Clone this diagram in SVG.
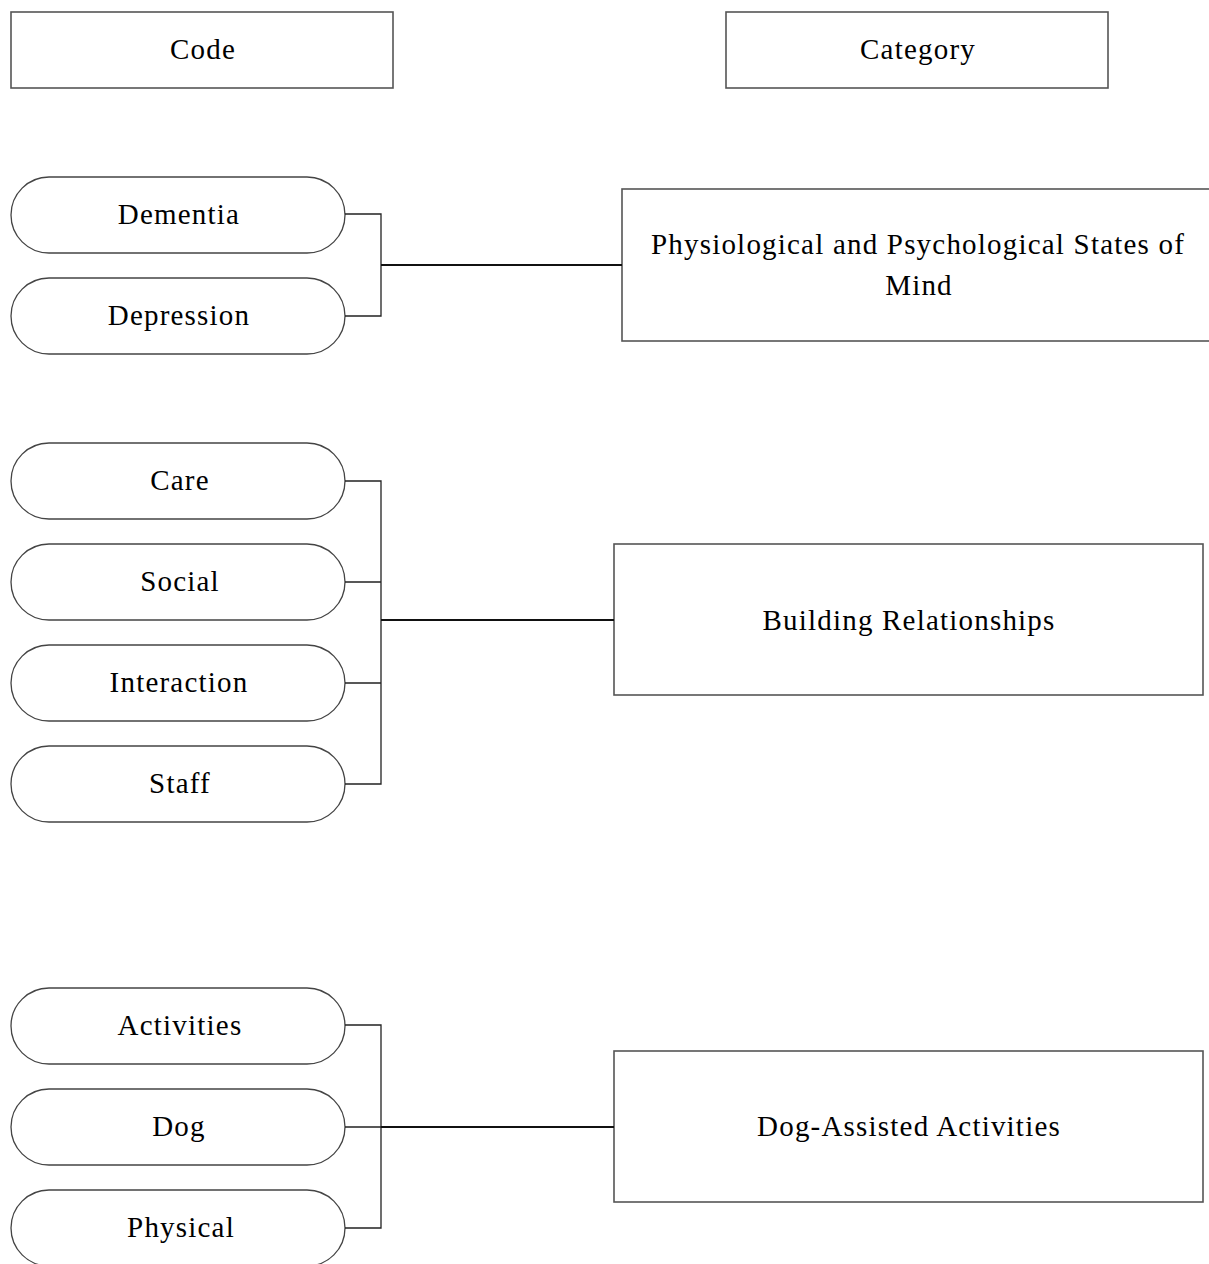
<svg xmlns="http://www.w3.org/2000/svg" width="1209" height="1264" viewBox="0 0 1209 1264">
<style>
.box{fill:#fff;stroke:#555;stroke-width:1.6}
.pill{fill:#fff;stroke:#444;stroke-width:1.3}
.t{font-family:"Liberation Serif","Times New Roman",serif;font-size:29px;letter-spacing:1.2px;fill:#000;text-anchor:middle;dominant-baseline:central}
.c{fill:none;stroke:#222;stroke-width:1.3}
.m{fill:none;stroke:#111;stroke-width:2}
</style>
<rect width="1209" height="1264" fill="#fff"/>
<g id="hdr-code"><rect class="box" x="11" y="12" width="382" height="76"/><text class="t" x="203" y="49">Code</text></g>
<g id="hdr-category"><rect class="box" x="726" y="12" width="382" height="76"/><text class="t" x="918" y="49">Category</text></g>

<g id="code-dementia"><rect class="pill" x="11" y="177" width="334" height="76" rx="38"/><text class="t" x="179" y="214">Dementia</text></g>
<g id="code-depression"><rect class="pill" x="11" y="278" width="334" height="76" rx="38"/><text class="t" x="179" y="315">Depression</text></g>
<g id="code-care"><rect class="pill" x="11" y="443" width="334" height="76" rx="38"/><text class="t" x="180" y="480">Care</text></g>
<g id="code-social"><rect class="pill" x="11" y="544" width="334" height="76" rx="38"/><text class="t" x="180" y="581">Social</text></g>
<g id="code-interaction"><rect class="pill" x="11" y="645" width="334" height="76" rx="38"/><text class="t" x="179" y="682">Interaction</text></g>
<g id="code-staff"><rect class="pill" x="11" y="746" width="334" height="76" rx="38"/><text class="t" x="180" y="783">Staff</text></g>
<g id="code-activities"><rect class="pill" x="11" y="988" width="334" height="76" rx="38"/><text class="t" x="180" y="1025">Activities</text></g>
<g id="code-dog"><rect class="pill" x="11" y="1089" width="334" height="76" rx="38"/><text class="t" x="179" y="1126">Dog</text></g>
<g id="code-physical"><rect class="pill" x="11" y="1190" width="334" height="76" rx="38"/><text class="t" x="181" y="1227">Physical</text></g>

<g id="cat-states"><rect class="box" x="622" y="189" width="600" height="152"/><text class="t" x="918" y="244">Physiological and Psychological States of</text><text class="t" x="919" y="285">Mind</text></g>
<g id="cat-relationships"><rect class="box" x="614" y="544" width="589" height="151"/><text class="t" x="909" y="620">Building Relationships</text></g>
<g id="cat-dogassisted"><rect class="box" x="614" y="1051" width="589" height="151"/><text class="t" x="909" y="1126">Dog-Assisted Activities</text></g>

<g id="connectors">
<path class="c" d="M345 214H381V316H345"/>
<path class="m" d="M381 265H622"/>
<path class="c" d="M345 481H381V784H345M345 582H381M345 683H381"/>
<path class="m" d="M381 620H614"/>
<path class="c" d="M345 1025H381V1228H345M345 1127H381"/>
<path class="m" d="M381 1127H614"/>
</g>
</svg>
